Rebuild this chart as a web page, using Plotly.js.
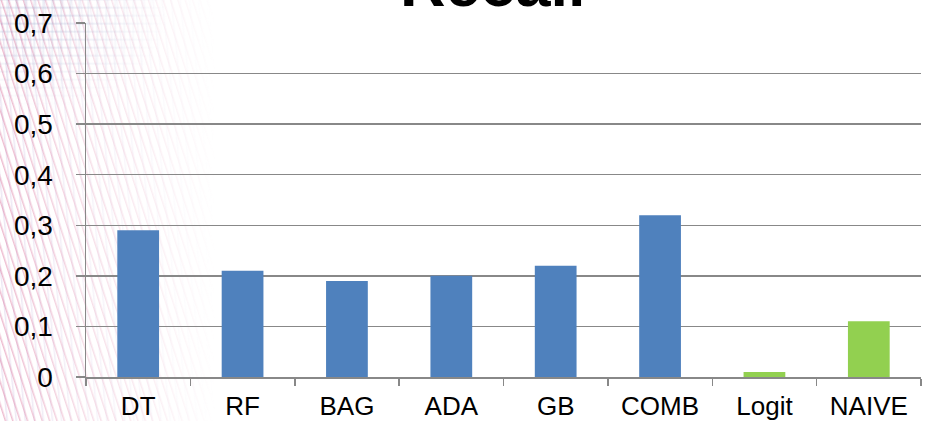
<!DOCTYPE html>
<html>
<head>
<meta charset="utf-8">
<script src="https://cdn.plot.ly/plotly-3.0.1.min.js"></script>
<style>
  html, body { margin: 0; padding: 0; background: #ffffff; }
  #wrap { position: relative; width: 925px; height: 421px; overflow: hidden; background: #ffffff; }
  /* decorative striped slide backdrop on the left edge */
  #deco {
    position: absolute; left: 0; top: 0; width: 240px; height: 421px;
    background:
      repeating-linear-gradient(72deg, rgba(220,120,160,0) 0px, rgba(220,120,160,0) 4px, rgba(220,120,160,0.5) 5px, rgba(220,120,160,0) 7px),
      repeating-linear-gradient(84deg, rgba(170,140,200,0) 0px, rgba(170,140,200,0) 6px, rgba(170,140,200,0.22) 7px, rgba(170,140,200,0) 9px);
    -webkit-mask-image: linear-gradient(to right, rgba(0,0,0,1) 0%, rgba(0,0,0,0.5) 35%, rgba(0,0,0,0) 90%);
    mask-image: linear-gradient(to right, rgba(0,0,0,1) 0%, rgba(0,0,0,0.5) 35%, rgba(0,0,0,0) 90%);
  }
  #deco2 {
    position: absolute; left: 0; top: 0; width: 170px; height: 110px;
    background:
      repeating-linear-gradient(0deg, rgba(120,140,190,0) 0px, rgba(120,140,190,0) 5px, rgba(120,140,190,0.3) 6px, rgba(120,140,190,0) 8px),
      repeating-linear-gradient(90deg, rgba(120,140,190,0) 0px, rgba(120,140,190,0) 6px, rgba(120,140,190,0.25) 7px, rgba(120,140,190,0) 9px);
    -webkit-mask-image: radial-gradient(ellipse at 20% 15%, rgba(0,0,0,0.9) 0%, rgba(0,0,0,0) 70%);
    mask-image: radial-gradient(ellipse at 20% 15%, rgba(0,0,0,0.9) 0%, rgba(0,0,0,0) 70%);
  }
  #chart { position: absolute; left: 0; top: 0; width: 925px; height: 421px; }
</style>
</head>
<body>
<div id="wrap">
  <div id="deco"></div>
  <div id="deco2"></div>
  <div id="chart"></div>
</div>
<script>
// Recall per model
const categories = ['DT', 'RF', 'BAG', 'ADA', 'GB', 'COMB', 'Logit', 'NAIVE'];
const recall = [0.29, 0.21, 0.19, 0.20, 0.22, 0.32, 0.01, 0.11];
const barColors = ['#4F81BD', '#4F81BD', '#4F81BD', '#4F81BD', '#4F81BD', '#4F81BD', '#92D050', '#92D050'];
const yTickVals = [0, 0.1, 0.2, 0.3, 0.4, 0.5, 0.6, 0.7];
const yTickText = ['0', '0,1', '0,2', '0,3', '0,4', '0,5', '0,6', '0,7'];

const axisGrey = '#888888';
const fontFamily = 'Liberation Sans, Arial, sans-serif';

const trace = {
  type: 'bar',
  x: categories,
  y: recall,
  marker: { color: barColors, line: { width: 0 } },
  width: 0.4,
  hoverinfo: 'x+y'
};

const layout = {
  width: 925,
  height: 421,
  margin: { l: 86, r: 4, t: 23, b: 44, pad: 0 },
  paper_bgcolor: 'rgba(0,0,0,0)',
  plot_bgcolor: 'rgba(0,0,0,0)',
  font: { family: fontFamily, color: '#000000', size: 26 },
  showlegend: false,
  // chart title, sitting high above the plot area
  annotations: [{
    text: '<b>Recall</b>',
    font: { family: fontFamily, size: 63, color: '#000000' },
    xref: 'paper', yref: 'paper',
    x: 0.487, xanchor: 'center',
    y: 1.006, yanchor: 'bottom',
    showarrow: false
  }],
  xaxis: {
    type: 'category',
    showline: true, linecolor: axisGrey, linewidth: 1.5,
    ticks: 'outside', tickson: 'boundaries', ticklen: 7, tickcolor: axisGrey, tickwidth: 1.5,
    ticklabelstandoff: 5,
    tickfont: { size: 26 },
    showgrid: false, zeroline: false,
    fixedrange: true
  },
  yaxis: {
    range: [0, 0.7],
    tickvals: yTickVals, ticktext: yTickText,
    showline: true, linecolor: axisGrey, linewidth: 1.5,
    ticks: 'outside', ticklen: 9, tickcolor: axisGrey, tickwidth: 1.5,
    ticklabelstandoff: 17,
    tickfont: { size: 28 },
    showgrid: true, gridcolor: axisGrey, gridwidth: 1.5,
    zeroline: false,
    fixedrange: true
  }
};

Plotly.newPlot('chart', [trace], layout, { displayModeBar: false, staticPlot: true });
</script>
</body>
</html>
